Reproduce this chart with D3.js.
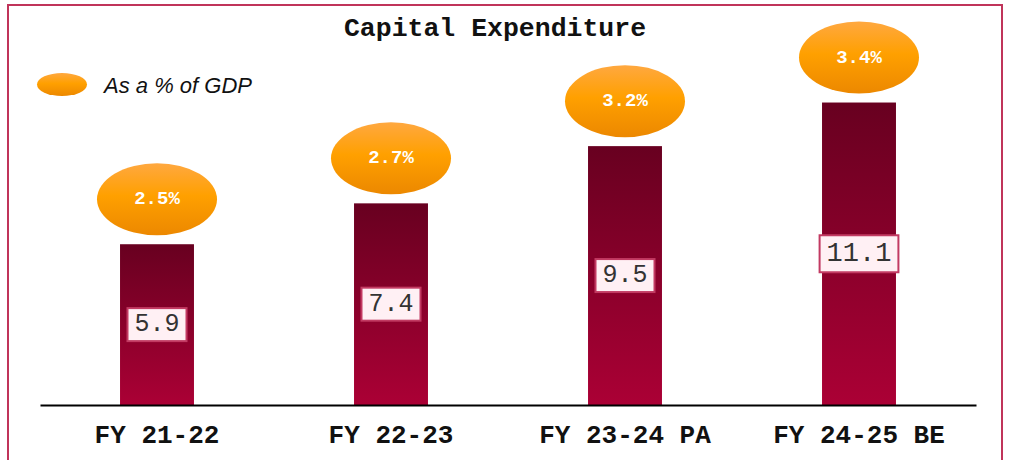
<!DOCTYPE html>
<html>
<head>
<meta charset="utf-8">
<script src="https://cdn.jsdelivr.net/npm/d3@7/dist/d3.min.js"></script>
<style>
  html, body { margin: 0; padding: 0; background: #fff; }
  svg { display: block; }
</style>
</head>
<body>
<svg id="chart" width="1010" height="460"></svg>
<script>
const categories = ["FY 21-22", "FY 22-23", "FY 23-24 PA", "FY 24-25 BE"];
const capexValues = [5.9, 7.4, 9.5, 11.1];
const gdpShare = [2.5, 2.7, 3.2, 3.4];
const gdpLabels = ["2.5%", "2.7%", "3.2%", "3.4%"];
const valueLabels = ["5.9", "7.4", "9.5", "11.1"];
const titleText = "Capital Expenditure";
const legendText = "As a % of GDP";

const svg = d3.select("#chart");
const mono = "'Liberation Mono', 'Courier New', monospace";

const defs = svg.append("defs");
const bg = defs.append("linearGradient").attr("id", "barGrad").attr("x1", 0).attr("y1", 0).attr("x2", 0).attr("y2", 1);
bg.append("stop").attr("offset", "0%").attr("stop-color", "#680020");
bg.append("stop").attr("offset", "100%").attr("stop-color", "#ab0035");
const eg = defs.append("linearGradient").attr("id", "ellGrad").attr("x1", 0).attr("y1", 0).attr("x2", 0).attr("y2", 1);
eg.append("stop").attr("offset", "0%").attr("stop-color", "#ffa840");
eg.append("stop").attr("offset", "45%").attr("stop-color", "#ffa000");
eg.append("stop").attr("offset", "100%").attr("stop-color", "#ec8800");

// frame
svg.append("rect").attr("x", 8).attr("y", 5).attr("width", 994).attr("height", 470)
  .attr("fill", "none").attr("stroke", "#c0345a").attr("stroke-width", 2);

const x = d3.scaleBand().domain(categories).range([40, 976]).paddingInner(0.684).paddingOuter(0.342);
const y = d3.scaleLinear().domain([0, 14]).range([405, 405 - 14 * 27.25]);

// title
svg.append("text").attr("x", 495).attr("y", 36).attr("text-anchor", "middle")
  .attr("font-family", mono).attr("font-weight", "bold").attr("font-size", 26.5)
  .attr("fill", "#111").text(titleText);

// legend
svg.append("ellipse").attr("cx", 62).attr("cy", 84.5).attr("rx", 25).attr("ry", 11.5).attr("fill", "url(#ellGrad)");
svg.append("text").attr("x", 104).attr("y", 93).attr("font-family", "'Liberation Sans', Arial, sans-serif")
  .attr("font-style", "italic").attr("font-size", 22).attr("fill", "#111").text(legendText);

// bars
svg.append("g").selectAll("rect.bar").data(capexValues).join("rect").attr("class", "bar")
  .attr("x", (d, i) => x(categories[i])).attr("width", x.bandwidth())
  .attr("y", d => y(d)).attr("height", d => y(0) - y(d)).attr("fill", "url(#barGrad)");

// axis
const xAxis = svg.append("g").attr("transform", `translate(0,${y(0)})`)
  .call(d3.axisBottom(x).tickSize(0).tickPadding(20).tickSizeOuter(0));
xAxis.select(".domain").attr("stroke", "#000").attr("stroke-width", 2.2);
xAxis.selectAll("text").attr("font-family", mono).attr("font-weight", "bold").attr("font-size", 26).attr("fill", "#111");

// value boxes
const cx = i => x(categories[i]) + x.bandwidth() / 2;
capexValues.forEach((v, i) => {
  const midY = (y(v) + y(0)) / 2;
  const last = i === capexValues.length - 1;
  const grp = svg.append("g");
  const t = grp.append("text").attr("x", cx(i)).attr("y", midY).attr("text-anchor", "middle")
    .attr("dominant-baseline", "central").attr("font-family", mono).attr("font-size", last ? 27 : 25)
    .attr("fill", "#333").text(valueLabels[i]);
  const bb = t.node().getBBox();
  const padX = 7, h = last ? 37 : 33;
  grp.insert("rect", "text").attr("x", bb.x - padX).attr("y", midY - h / 2)
    .attr("width", bb.width + 2 * padX).attr("height", h)
    .attr("fill", "#fff0f4").attr("stroke", "#c23a62").attr("stroke-width", 2);
});

// GDP ellipses
gdpShare.forEach((v, i) => {
  const cy = y(capexValues[i]) - 45;
  svg.append("ellipse").attr("cx", cx(i)).attr("cy", cy).attr("rx", 60).attr("ry", 36).attr("fill", "url(#ellGrad)");
  svg.append("text").attr("x", cx(i)).attr("y", cy).attr("text-anchor", "middle").attr("dominant-baseline", "central")
    .attr("font-family", mono).attr("font-weight", "bold").attr("font-size", 19).attr("fill", "#fff").text(gdpLabels[i]);
});
</script>
</body>
</html>
